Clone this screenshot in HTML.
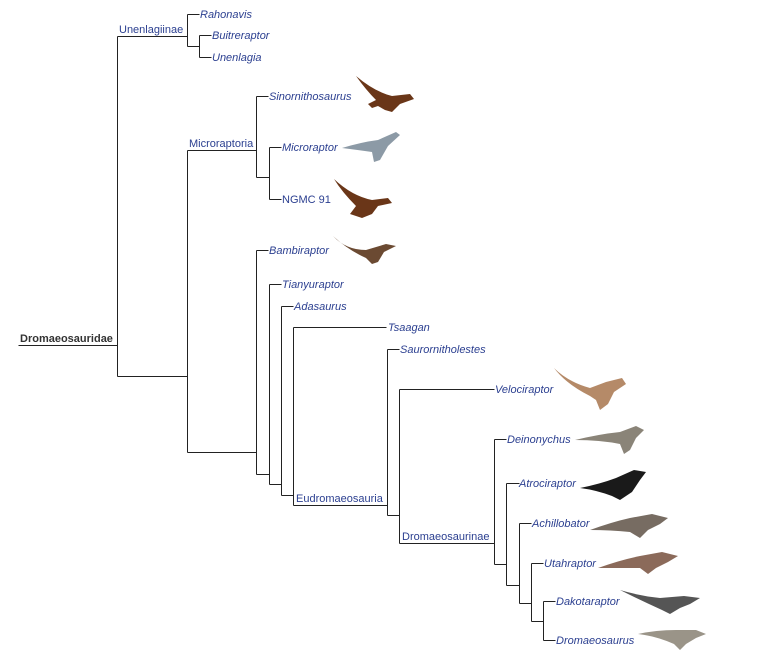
<!DOCTYPE html>
<html><head><meta charset="utf-8"><style>
html,body{margin:0;padding:0;background:#fff;}
svg{display:block;}
.t{font-family:"Liberation Sans",sans-serif;font-size:11px;font-style:italic;fill:#2b3f90;}
.c{font-family:"Liberation Sans",sans-serif;font-size:11px;fill:#2b3f90;}
.r{font-family:"Liberation Sans",sans-serif;font-size:11px;font-weight:bold;fill:#333;}
</style></head><body>
<svg width="766" height="665" viewBox="0 0 766 665" xmlns="http://www.w3.org/2000/svg">
<g stroke="#222" stroke-width="1" fill="none" shape-rendering="crispEdges">
<path d="M18.5 345.5H117.5M117.5 36.5V376.5M117.5 36.5H187.5M117.5 376.5H187.5"/>
<path d="M187.5 14.5V46.5M187.5 14.5H199.5M187.5 46.5H199.5M199.5 35.5V57.5M199.5 35.5H211.5M199.5 57.5H211.5"/>
<path d="M187.5 150.5V452.5M187.5 150.5H256.5M256.5 96.5V177.5M256.5 96.5H268.5M256.5 177.5H269.5M269.5 147.5V199.5M269.5 147.5H281.5M269.5 199.5H281.5"/>
<path d="M187.5 452.5H256.5M256.5 250.5V474.5M256.5 250.5H268.5M256.5 474.5H269.5M269.5 284.5V484.5M269.5 284.5H281.5M269.5 484.5H281.5M281.5 306.5V495.5M281.5 306.5H293.5M281.5 495.5H293.5M293.5 327.5V505.5M293.5 327.5H386.5M293.5 505.5H387.5"/>
<path d="M387.5 349.5V515.5M387.5 349.5H399.5M387.5 515.5H399.5M399.5 389.5V543.5M399.5 389.5H494.5M399.5 543.5H494.5"/>
<path d="M494.5 439.5V564.5M494.5 439.5H506.5M494.5 564.5H506.5M506.5 483.5V585.5M506.5 483.5H519.5M506.5 585.5H519.5M519.5 523.5V603.5M519.5 523.5H531.5M519.5 603.5H531.5M531.5 563.5V621.5M531.5 563.5H543.5M531.5 621.5H543.5M543.5 601.5V640.5M543.5 601.5H555.5M543.5 640.5H555.5"/>
</g>
<text class="r" x="20" y="342">Dromaeosauridae</text>
<text class="c" x="119" y="33">Unenlagiinae</text>
<text class="c" x="189" y="147">Microraptoria</text>
<text class="c" x="296" y="502">Eudromaeosauria</text>
<text class="c" x="402" y="540">Dromaeosaurinae</text>
<g class="t">
<text x="200" y="18">Rahonavis</text>
<text x="212" y="39">Buitreraptor</text>
<text x="212" y="61">Unenlagia</text>
<text x="269" y="100">Sinornithosaurus</text>
<text x="282" y="151">Microraptor</text>
<text x="388" y="331">Tsaagan</text>
<text x="269" y="254">Bambiraptor</text>
<text x="282" y="288">Tianyuraptor</text>
<text x="294" y="310">Adasaurus</text>
<text x="400" y="353">Saurornitholestes</text>
<text x="495" y="393">Velociraptor</text>
<text x="507" y="443">Deinonychus</text>
<text x="519" y="487">Atrociraptor</text>
<text x="532" y="527">Achillobator</text>
<text x="544" y="567">Utahraptor</text>
<text x="556" y="605">Dakotaraptor</text>
<text x="556" y="644">Dromaeosaurus</text>
</g>
<text class="c" x="282" y="203" style="font-style:normal">NGMC 91</text>
<!-- dinosaur silhouettes -->
<g>
<path d="M356 76 Q375 92 392 96 L410 94 L414 99 L400 104 L392 112 L385 110 L378 106 L372 108 L368 104 L376 100 Q366 90 356 76Z" fill="#6a3618"/>
<path d="M342 148 Q362 142 378 140 L396 132 L400 135 L388 146 L380 160 L374 162 L372 152 Q358 150 342 148Z" fill="#8c9aa6"/>
<path d="M334 179 Q352 196 372 200 L388 198 L392 203 L378 206 L372 214 L362 218 L350 214 L356 206 Q342 192 334 179Z" fill="#6a3618"/>
<path d="M333 236 Q346 250 366 250 L386 244 L396 246 L384 252 L378 262 L372 264 L366 258 Q348 250 333 236Z" fill="#6b4a32"/>
<path d="M554 368 Q568 382 590 388 L606 382 L622 378 L626 384 L614 392 L608 404 L600 410 L596 400 L590 396 Q566 384 554 368Z" fill="#b58a68"/>
<path d="M575 440 Q600 434 620 432 L636 426 L644 430 L636 438 L630 450 L624 454 L620 444 Q600 440 575 440Z" fill="#8a8478"/>
<path d="M580 488 Q600 484 616 478 L634 470 L646 472 L640 480 L632 492 L620 500 L612 496 Q596 490 580 488Z" fill="#1a1a1a"/>
<path d="M590 530 Q612 522 630 518 L652 514 L668 518 L660 524 L648 530 L640 538 L630 532 Q610 530 590 530Z" fill="#776c62"/>
<path d="M598 568 Q620 560 640 556 L662 552 L678 556 L668 562 L656 568 L648 574 L640 568 Q620 568 598 568Z" fill="#8b6a5a"/>
<path d="M620 590 Q640 596 660 598 L684 596 L700 598 L690 604 L680 608 L670 614 L662 610 Q640 600 620 590Z" fill="#555"/>
<path d="M638 634 Q656 630 676 630 L696 630 L706 634 L696 638 L686 644 L680 650 L674 644 Q656 636 638 634Z" fill="#9a9488"/>
</g>
</svg>
</body></html>
